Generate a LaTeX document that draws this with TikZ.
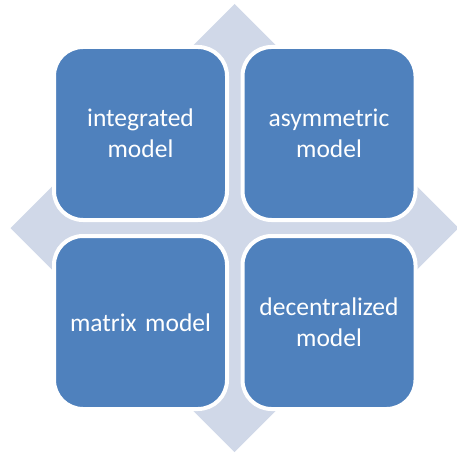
\documentclass[tikz,border=0pt]{standalone}
\usepackage{fontspec}
\setmainfont{Carlito}
\definecolor{boxblue}{HTML}{4F81BD}
\definecolor{diamondfill}{HTML}{D0D8E8}
\begin{document}
\begin{tikzpicture}[x=1pt,y=-1pt,
  cell/.style={draw=white, line width=4pt, fill=boxblue, rounded corners=29pt,
    minimum width=173pt, minimum height=173pt, inner sep=0pt, text=white,
    font=\fontsize{25.5}{31}\selectfont, align=center, text width=165pt}]
\useasboundingbox (0,0) rectangle (457,454);
\fill[diamondfill] (234.5,4) -- (10.5,228) -- (234.5,452) -- (458.5,228) -- cycle;
\node[cell] (integrated) at (140.5,133.5) {integrated\\model};
\node[cell] (asymmetric) at (329,133.5) {asymmetric\\model};
\node[cell] (matrix) at (140.5,322.5) {matrix model};
\node[cell] (decentralized) at (329,322.5) {decentralized\\model};
\end{tikzpicture}
\end{document}
